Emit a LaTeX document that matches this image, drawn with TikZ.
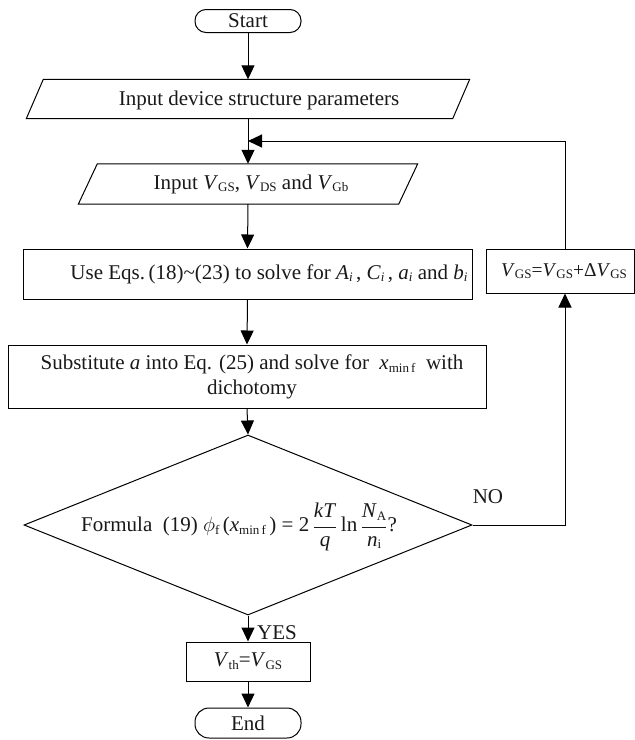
\documentclass[tikz,border=0pt]{standalone}
\usepackage{fontspec}
\setmainfont{Liberation Serif}
\usetikzlibrary{arrows.meta,shapes.geometric,calc}
\newcommand{\vv}[2]{\textit{#1}\raisebox{-0.28ex}{\fontsize{13}{13}\selectfont #2}}
\begin{document}
\begin{tikzpicture}[x=1pt,y=-1pt,
  every node/.style={font=\fontsize{21}{25}\selectfont, inner sep=0pt, text=black!90},
  line/.style={line width=1pt},
  arr/.style={line width=1pt,-{Triangle[length=14pt,width=13pt]}},
  box/.style={draw,line width=1pt,rectangle},
  term/.style={draw,line width=1pt,rectangle,rounded corners=11pt},
  ghost/.style={rectangle}]
\useasboundingbox (0,0) rectangle (635,740);

% nodes
\node[term,minimum width=106pt,minimum height=23pt] (start) at (248,21) {Start};
\node[ghost,minimum width=426pt,minimum height=39pt] (in1) at (248,99) {};
\node (in1t) at (259,100) {Input device structure parameters};
\coordinate (join) at (248,141);
\node[ghost,minimum width=320pt,minimum height=40pt] (in2) at (248,184) {};
\node (in2t) at (251,184) {Input \vv{V}{GS}, \vv{V}{DS} and \vv{V}{Gb}};
\node[box,minimum width=449pt,minimum height=50pt] (eqs) at (247.5,274) {};
\node (eqst) at (269,274) {Use Eqs.\,(18)\textasciitilde(23) to solve for \vv{A}{\textit{i}}\,, \vv{C}{\textit{i}}\,, \vv{a}{\textit{i}} and \vv{b}{\textit{i}}};
\node[box,minimum width=148pt,minimum height=44pt] (vgs) at (560,271) {};
\node[anchor=west,font=\fontsize{19.5}{23}\selectfont] (vgst) at (501,271) {\vv{V}{GS}=\vv{V}{GS}+Δ\vv{V}{GS}};
\node[box,minimum width=478pt,minimum height=63pt] (sub) at (247,376.5) {};
\node[align=center] (subt) at (252,377) {Substitute \textit{a} into Eq. (25) and solve for \ \vv{x}{min\,f} \ with\\dichotomy};
\node[draw,diamond,line width=1pt,minimum width=448pt,minimum height=180pt] (dec) at (248,525) {};
\node (dect) at (239,527) {Formula\ \ (19)\ \vv{$\phi$}{f}\,(\vv{x}{min\,f}\,) = 2\,$\displaystyle\frac{\hbox{\textit{kT}}}{\hbox{\textit{q}}}$\,ln\,$\displaystyle\frac{\hbox{\vv{N}{A}}}{\hbox{\vv{n}{i}}}$?};
\node (no) at (488,497) {NO};
\node[anchor=west] (yes) at (257,633) {YES};
\node[box,minimum width=124pt,minimum height=39pt] (vth) at (248,661.5) {\vv{V}{th}=\vv{V}{GS}};
\node[term,minimum width=106pt,minimum height=30pt,rounded corners=14pt] (end) at (248,723) {End};

% parallelogram outlines
\draw[line] ([xshift=-8.5pt]in1.south west) -- ([xshift=-8.5pt]in1.south east)
  -- ([xshift=8.5pt]in1.north east) -- ([xshift=8.5pt]in1.north west) -- cycle;
\draw[line] ([xshift=-9.5pt]in2.south west) -- ([xshift=-9.5pt]in2.south east)
  -- ([xshift=9.5pt]in2.north east) -- ([xshift=9.5pt]in2.north west) -- cycle;

% connectors
\draw[arr] (start.south) -- (in1.north);
\draw[arr] (in1.south) -- (in2.north);
\draw[arr] ([xshift=5pt]vgs.north) |- (join);
\draw[arr] (in2.south) -- (eqs.north);
\draw[arr] (eqs.south) -- (sub.north);
\draw[arr] (sub.south) -- (dec.north);
\draw[arr] (dec.east) -| ([xshift=5pt]vgs.south);
\draw[arr] (dec.south) -- (vth.north);
\draw[arr] (vth.south) -- (end.north);
\end{tikzpicture}
\end{document}
